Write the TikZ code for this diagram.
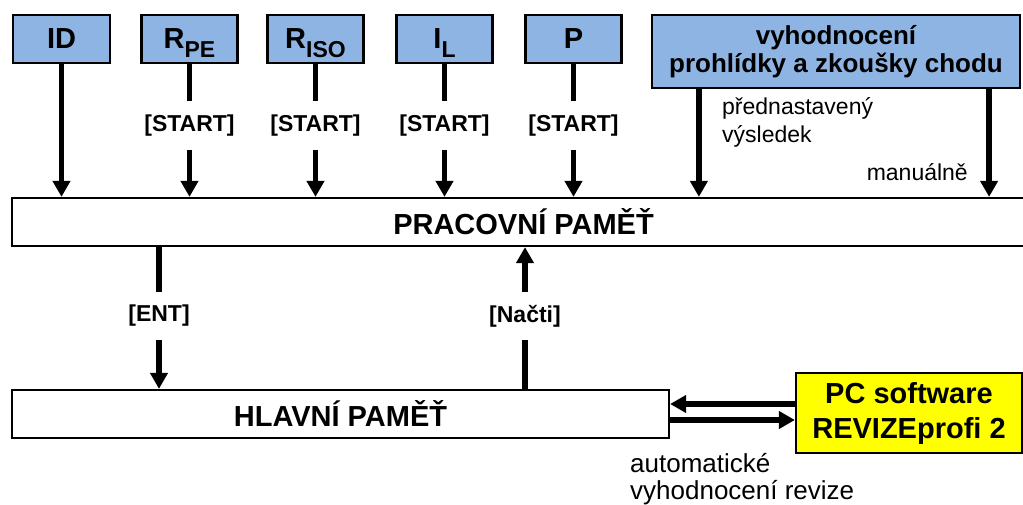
\documentclass[tikz,border=0pt]{standalone}
\usepackage{fontspec}
\setmainfont{Liberation Sans}
\usetikzlibrary{arrows.meta,positioning}

\definecolor{boxblue}{RGB}{141,180,226}
\definecolor{pcyellow}{RGB}{255,255,0}
\newcommand\lowidx[1]{\raisebox{-9pt}[0pt][0pt]{\fontsize{23}{23}\selectfont #1}}

\tikzset{
  quantity/.style={draw,line width=2.2pt,fill=boxblue,inner sep=0pt,
    minimum width=96pt,minimum height=48pt,font=\fontsize{29}{32}\selectfont\bfseries},
  memory/.style={draw,line width=2.2pt,fill=white,inner sep=0pt,
    minimum height=48pt,font=\fontsize{29}{32}\selectfont\bfseries},
  key/.style={inner sep=0pt,minimum height=48pt,font=\fontsize{23}{26}\selectfont\bfseries},
  note/.style={inner sep=0pt,align=left,font=\fontsize{23}{28}\selectfont},
  wire/.style={line width=5.5pt},
  flow/.style={line width=5.5pt,-{Triangle[length=16pt,width=17pt]}},
}

\begin{document}
\begin{tikzpicture}[x=1pt,y=-1pt]
    \useasboundingbox (0,0) rectangle (1023,504);

    % Draw measured quantities
    \node[quantity,minimum width=97pt] (id) at (61.5,39) {ID};
    \node[quantity] (rpe) at (189.5,39) {R\lowidx{PE}};
    \node[quantity] (riso) at (315.5,39) {R\lowidx{ISO}};
    \node[quantity] (il) at (444.5,39) {I\lowidx{L}};
    \node[quantity] (p) at (573.5,39) {P};
    \node[quantity,minimum width=368pt,minimum height=73pt,align=center,
      font=\fontsize{26}{28}\selectfont\bfseries] (vyh) at (836,51.5)
      {vyhodnocení\\prohlídky a zkoušky chodu};

    % Draw memories
    \node[memory,minimum width=1023pt] (pm) at (523.5,222) {PRACOVNÍ PAMĚŤ};
    \node[memory,minimum width=657pt] (hm) at (340.5,414) {HLAVNÍ PAMĚŤ};
    \node[memory,fill=pcyellow,minimum width=226pt,minimum height=80pt,align=center,
      font=\fontsize{29}{35}\selectfont\bfseries] (pc) at (909,413) {PC software\\REVIZEprofi 2};

    % Start keys
    \node[key,below=37pt of rpe] (k1) {[START]};
    \node[key,below=37pt of riso] (k2) {[START]};
    \node[key,below=37pt of il] (k3) {[START]};
    \node[key,below=37pt of p] (k4) {[START]};

    % Arrows into working memory
    \draw[flow] (id) -- (id |- pm.north);
    \foreach \q/\k in {rpe/k1,riso/k2,il/k3,p/k4} {
        \draw[wire] (\q) -- (\k);
        \draw[flow] (\k) -- (\k |- pm.north);
    }
    \coordinate (v1) at ([xshift=48pt]vyh.south west);
    \coordinate (v2) at ([xshift=-32pt]vyh.south east);
    \draw[flow] (v1) -- (v1 |- pm.north);
    \draw[flow] (v2) -- (v2 |- pm.north);

    % Labels of the evaluation paths
    \node[note,anchor=north west] (pred) at (722,97) {přednastavený\\výsledek};
    \node[note,anchor=base east] (man) at (968,180) {manuálně};

    % Working memory <-> main memory
    \node[key] (ent) at (159,316) {[ENT]};
    \node[key] (nacti) at (525,316) {[Načti]};
    \draw[wire] (ent |- pm.south) -- (ent);
    \draw[flow] (ent) -- (ent |- hm.north);
    \draw[wire] (nacti |- hm.north) -- (nacti);
    \draw[flow] (nacti) -- (nacti |- pm.south);

    % Main memory <-> PC
    \coordinate (pcin) at ([yshift=9pt]pc.west);
    \coordinate (hmout) at ([yshift=-6pt]hm.east);
    \draw[flow] (pcin) -- (pcin -| hm.east);
    \draw[flow] (hmout) -- (hmout -| pc.west);
    \node[note,anchor=north west,font=\fontsize{26}{27}\selectfont] (auto) at (630,453)
      {automatické\\vyhodnocení revize};
\end{tikzpicture}
\end{document}
